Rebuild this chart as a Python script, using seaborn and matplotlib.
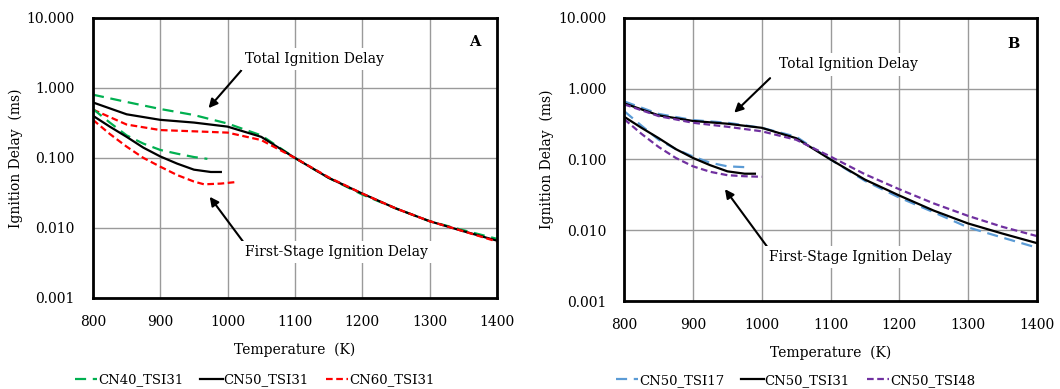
import matplotlib
matplotlib.use("Agg")
import matplotlib.pyplot as plt
import seaborn as sns
import numpy as np

# ---------------- data ----------------
T_total = [800, 850, 900, 950, 1000, 1050, 1100, 1150, 1200, 1250, 1300, 1350, 1400]
cn40_tsi31_total = [0.80, 0.63, 0.50, 0.41, 0.31, 0.21, 0.100, 0.052, 0.030, 0.019, 0.0125, 0.0093, 0.0070]
cn50_tsi31_total = [0.62, 0.42, 0.35, 0.32, 0.28, 0.20, 0.100, 0.052, 0.031, 0.019, 0.0125, 0.0090, 0.0066]
cn60_tsi31_total = [0.49, 0.30, 0.25, 0.24, 0.23, 0.18, 0.100, 0.053, 0.031, 0.019, 0.0125, 0.0090, 0.0064]
cn50_tsi17_total = [0.66, 0.44, 0.36, 0.33, 0.28, 0.21, 0.100, 0.050, 0.029, 0.018, 0.0110, 0.0079, 0.0057]
cn50_tsi48_total = [0.60, 0.41, 0.33, 0.29, 0.25, 0.19, 0.110, 0.062, 0.038, 0.024, 0.0160, 0.0112, 0.0083]

T_cn40_first = [800, 825, 850, 875, 900, 925, 950, 970]
cn40_tsi31_first = [0.50, 0.32, 0.21, 0.16, 0.13, 0.115, 0.103, 0.097]
T_cn50_first = [800, 825, 850, 875, 900, 925, 950, 975, 990]
cn50_tsi31_first = [0.40, 0.28, 0.20, 0.14, 0.105, 0.083, 0.068, 0.063, 0.063]
T_cn60_first = [800, 825, 850, 875, 900, 925, 950, 965, 990, 1010]
cn60_tsi31_first = [0.35, 0.22, 0.145, 0.10, 0.075, 0.057, 0.046, 0.042, 0.043, 0.045]
T_tsi17_first = [800, 825, 850, 875, 900, 925, 950, 975]
cn50_tsi17_first = [0.48, 0.30, 0.19, 0.14, 0.11, 0.09, 0.080, 0.078]
T_tsi48_first = [800, 825, 850, 875, 900, 925, 950, 975, 1000]
cn50_tsi48_first = [0.37, 0.23, 0.15, 0.105, 0.080, 0.067, 0.060, 0.058, 0.057]

y_ticks = [0.001, 0.01, 0.1, 1, 10]
y_tick_labels = ["0.001", "0.010", "0.100", "1.000", "10.000"]
x_ticks = [800, 900, 1000, 1100, 1200, 1300, 1400]

# ---------------- style ----------------
plt.rcParams['font.family'] = ['DejaVu Serif']
plt.rcParams['font.size'] = 10

GREEN = "#00B050"
RED = "#FF0000"
BLUE = "#5B9BD5"
PURPLE = "#7030A0"
LW = 1.6
LONG = (0, (5, 3))
SHORT = (0, (3, 1.6))

fig = plt.figure(figsize=(10.6, 3.89), dpi=100)
axA = fig.add_axes([0.0877, 0.234, 0.381, 0.720])
axB = fig.add_axes([0.589, 0.226, 0.389, 0.728])


def series(ax, x, y, color, ls, label=None):
    sns.lineplot(x=x, y=y, ax=ax, color=color, linewidth=LW, linestyle=ls,
                 label=label, legend=False, sort=True)


# Panel A
series(axA, T_total, cn40_tsi31_total, GREEN, LONG, "CN40_TSI31")
series(axA, T_total, cn50_tsi31_total, "black", "-", "CN50_TSI31")
series(axA, T_total, cn60_tsi31_total, RED, SHORT, "CN60_TSI31")
series(axA, T_cn40_first, cn40_tsi31_first, GREEN, LONG)
series(axA, T_cn50_first, cn50_tsi31_first, "black", "-")
series(axA, T_cn60_first, cn60_tsi31_first, RED, SHORT)

# Panel B
series(axB, T_total, cn50_tsi17_total, BLUE, LONG, "CN50_TSI17")
series(axB, T_total, cn50_tsi31_total, "black", "-", "CN50_TSI31")
series(axB, T_total, cn50_tsi48_total, PURPLE, SHORT, "CN50_TSI48")
series(axB, T_tsi17_first, cn50_tsi17_first, BLUE, LONG)
series(axB, T_cn50_first, cn50_tsi31_first, "black", "-")
series(axB, T_tsi48_first, cn50_tsi48_first, PURPLE, SHORT)

for ax in (axA, axB):
    ax.set_yscale('log')
    ax.set_ylim(0.001, 10)
    ax.set_xlim(800, 1400)
    ax.set_yticks(y_ticks)
    ax.set_yticklabels(y_tick_labels)
    ax.yaxis.set_minor_locator(matplotlib.ticker.NullLocator())
    ax.set_xticks(x_ticks)
    ax.set_xticklabels([str(t) for t in x_ticks])
    ax.tick_params(axis="x", length=0, labelsize=10, pad=12)
    ax.tick_params(axis="y", length=0, labelsize=10, pad=13)
    ax.grid(True, color="#9a9a9a", linewidth=1.0)
    ax.set_axisbelow(True)
    for s in ax.spines.values():
        s.set_linewidth(2.0)
        s.set_color("black")
    ax.set_xlabel("Temperature  (K)", fontsize=10, labelpad=10)
    ax.set_ylabel("Ignition Delay  (ms)", fontsize=10, labelpad=3)

box = dict(boxstyle="square,pad=0.3", fc="white", ec="none")
arrow = dict(arrowstyle="-|>", color="black", lw=1.5, mutation_scale=13)

# annotations A
axA.annotate("", xy=(969, 0.48), xytext=(1023, 1.9), arrowprops=arrow)
axA.text(1129, 2.6, "Total Ignition Delay", ha="center", va="center", fontsize=10, bbox=box)
axA.annotate("", xy=(971, 0.030), xytext=(1028, 0.0055), arrowprops=arrow)
axA.text(1162, 0.0045, "First-Stage Ignition Delay", ha="center", va="center", fontsize=10, bbox=box)
axA.text(1367, 4.5, "A", ha="center", va="center", fontsize=10.5, fontweight="bold")

# annotations B
axB.annotate("", xy=(957, 0.43), xytext=(1015, 1.5), arrowprops=arrow)
axB.text(1126, 2.2, "Total Ignition Delay", ha="center", va="center", fontsize=10, bbox=box)
axB.annotate("", xy=(944, 0.041), xytext=(1013, 0.0050), arrowprops=arrow)
axB.text(1143, 0.0042, "First-Stage Ignition Delay", ha="center", va="center", fontsize=10, bbox=box)
axB.text(1366, 4.3, "B", ha="center", va="center", fontsize=10.5, fontweight="bold")

# legends
for ax, (bx, by) in ((axA, (0.40, -0.293)), (axB, (0.415, -0.28))):
    h, l = ax.get_legend_handles_labels()
    ax.legend(h, l, loc="center", bbox_to_anchor=(bx, by), ncol=3, frameon=False,
              fontsize=9.5, handlelength=1.7, handletextpad=0.05, columnspacing=1.3)

fig.savefig("out.png", dpi=100)
